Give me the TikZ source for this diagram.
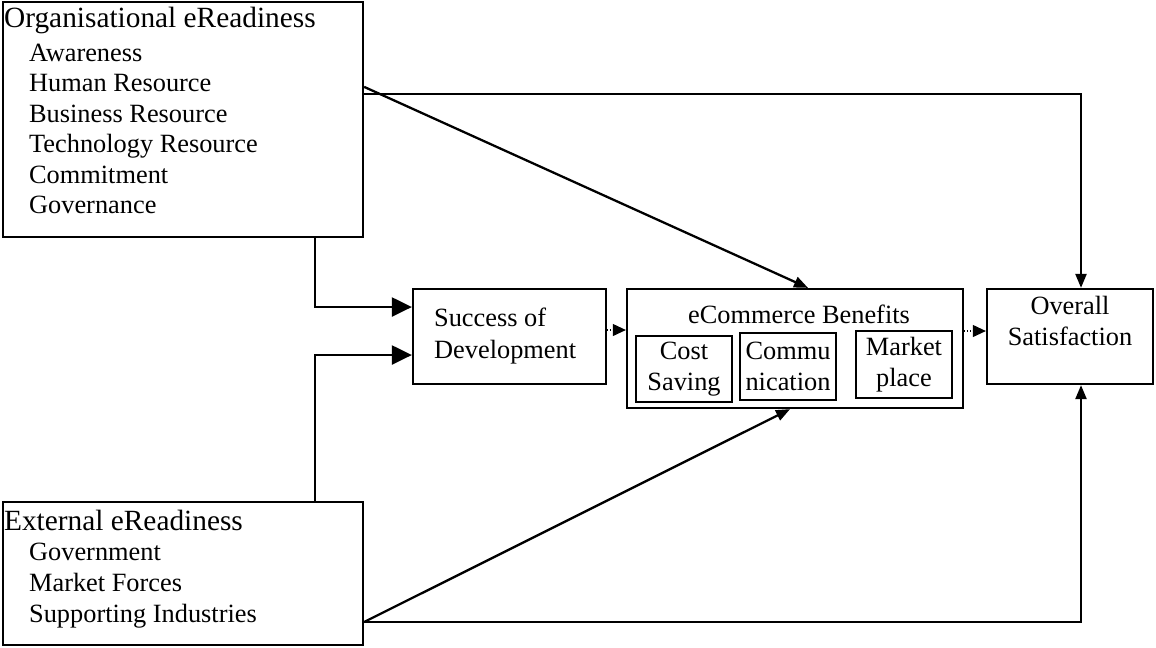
\documentclass[tikz,border=0pt]{standalone}
\usepackage{fontspec}
\setmainfont{Liberation Serif}
\usetikzlibrary{arrows.meta,fit,calc}

\begin{document}
\begin{tikzpicture}[x=0.02cm,y=-0.02cm,line width=1.3pt,
                    font=\fontsize{15}{17.4}\selectfont]
  \tikzstyle{box}=[draw,inner sep=0pt,line width=1.3pt]
  \tikzstyle{subbox}=[draw,inner sep=0pt,line width=1pt,align=center,
                      minimum width=1.92cm,minimum height=1.33cm]
  \tikzstyle{head}=[font=\fontsize{16.7}{20}\selectfont,anchor=base west,inner sep=0pt]
  \tikzstyle{item}=[anchor=base west,inner sep=0pt]
  \tikzstyle{bigarr}=[-{Triangle[length=0.4cm,width=0.38cm]}]
  \tikzstyle{arr}=[-{Triangle[length=0.28cm,width=0.22cm]}]
  \tikzstyle{dotarr}=[densely dotted,line width=0.6pt,-{Triangle[length=0.26cm,width=0.24cm]}]

  \useasboundingbox (0,0) rectangle (1156,647);

  \node[box,fit={(3,2) (363,237)}] (org) {};
  \node[box,fit={(3,502) (363,645)}] (ext) {};
  \node[box,fit={(413,289) (606,384)}] (succ) {};
  \node[box,fit={(627,289) (963,408)}] (ben) {};
  \node[box,fit={(987,289) (1153,384)}] (sat) {};

  \node[head] (orgt) at (3,27) {Organisational eReadiness};
  \foreach \t [count=\i] in {Awareness,Human Resource,Business Resource,
                             Technology Resource,Commitment,Governance}
    \node[item] (org\i) at (28,30.5+30.5*\i) {\t};

  \node[head] (extt) at (3,530) {External eReadiness};
  \foreach \t [count=\i] in {Government,Market Forces,Supporting Industries}
    \node[item] (ext\i) at (28,529+31*\i) {\t};

  \node[align=left,anchor=west,inner sep=0pt] (succt) at (433,336) {Success of\\[0.8pt]Development};
  \node[anchor=base,inner sep=0pt] (bent) at (799,323) {eCommerce Benefits};
  \node[subbox] (cost) at (684,369) {Cost\\Saving};
  \node[subbox] (comm) at (788,366.5) {Commu\\nication};
  \node[subbox] (mkt) at (904,364.5) {Market\\place};
  \node[align=center,inner sep=0pt] (satt) at (1070,321) {Overall\\Satisfaction};

  \draw[arr] ($(org.north east)+(0,93)$) -| ($(sat.north)+(11,0)$);
  \draw[arr] ($(org.north east)+(0,86)$) -- ($(ben.north)+(13,0)$);
  \draw[bigarr] ($(org.south west)+(313,0)$) |- ($(succ.west)+(0,-29.5)$);
  \draw[bigarr] ($(ext.north west)+(313,0)$) |- ($(succ.west)+(0,18.5)$);

  \coordinate (d1) at ($(succ.east)+(0,-6.5)$);
  \draw[dotarr] (d1) -- (d1 -| ben.west);
  \coordinate (d2) at ($(ben.east)+(0,-17.5)$);
  \draw[dotarr] (d2) -- (d2 -| sat.west);

  \draw[arr] ($(ext.east)+(0,48.5)$) -- ($(ben.south)+(-5,0)$);
  \draw[arr] ($(ext.east)+(0,48.5)$) -| ($(sat.south)+(11,0)$);

\end{tikzpicture}
\end{document}
